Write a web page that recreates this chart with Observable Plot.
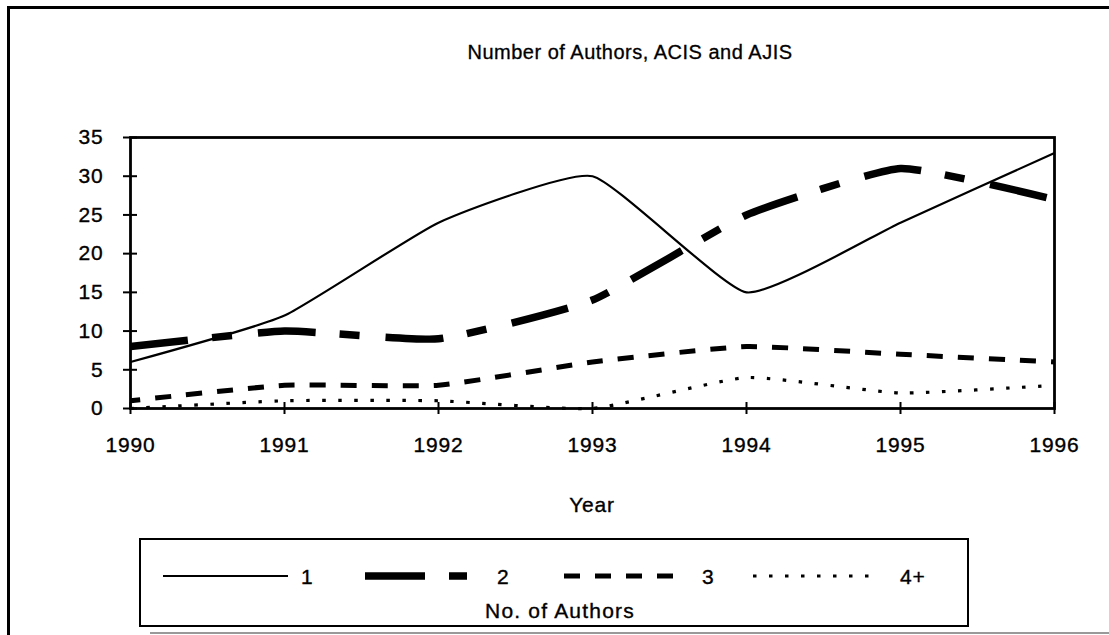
<!DOCTYPE html>
<html>
<head>
<meta charset="utf-8">
<script src="https://cdn.jsdelivr.net/npm/d3@7"></script>
<script src="https://cdn.jsdelivr.net/npm/@observablehq/plot@0.6"></script>
<style>
  html, body { margin: 0; padding: 0; background: #fff; }
  body { width: 1109px; height: 635px; position: relative; overflow: hidden;
         font-family: "Liberation Sans", Arial, Helvetica, sans-serif; color: #000; }
  #chart { position: absolute; left: 0; top: 0; }
  #chart svg text { letter-spacing: 0.8px; stroke: #000; stroke-width: 0.35px; }
  .frame-top { position: absolute; left: 7px; top: 6px; width: 1102px; height: 0; border-top: 3px solid #000; }
  .frame-left { position: absolute; left: 7px; top: 6px; width: 0; height: 629px; border-left: 3px solid #000; }
  .frame-bottom { position: absolute; left: 150px; top: 632px; width: 959px; height: 0; border-top: 2px solid #999; }
  #title { position: absolute; top: 42px; left: 430px; width: 400px; text-align: center;
           font-size: 20px; line-height: 20px; letter-spacing: 0.5px; white-space: nowrap;
           -webkit-text-stroke: 0.3px #000; }
  #xlabel { position: absolute; top: 494px; left: 492px; width: 200px; text-align: center;
            font-size: 21px; line-height: 21px; letter-spacing: 0.8px; -webkit-text-stroke: 0.35px #000; }
  #legendbox { position: absolute; left: 139px; top: 538px; width: 826px; height: 85px;
               border: 2.5px solid #000; }
  #legend { position: absolute; left: 0; top: 0; }
  #legend text { letter-spacing: 0.8px; stroke: #000; stroke-width: 0.35px; }
</style>
</head>
<body>
<div class="frame-top"></div>
<div class="frame-left"></div>
<div class="frame-bottom"></div>
<div id="title"></div>
<div id="chart"></div>
<div id="xlabel"></div>
<div id="legendbox"></div>
<svg id="legend" width="1109" height="635"></svg>
<script>
// ---- data ----
const years = [1990, 1991, 1992, 1993, 1994, 1995, 1996];
const seriesNames = ["1", "2", "3", "4+"];
const authors1 = [6, 12, 24, 30, 15, 24, 33];
const authors2 = [8, 10, 9, 14, 25, 31, 27];
const authors3 = [1, 3, 3, 6, 8, 7, 6];
const authors4plus = [0, 1, 1, 0, 4, 2, 3];
const yTicks = [0, 5, 10, 15, 20, 25, 30, 35];
const titleText = "Number of Authors, ACIS and AJIS";
const xLabel = "Year";
const legendTitle = "No. of Authors";

// ---- styles (kept separate from data) ----
const seriesValues = [authors1, authors2, authors3, authors4plus];
const lineStyles = {
  "1":  {strokeWidth: 2.2, dash: null, offset: 0},
  "2":  {strokeWidth: 7.5, dash: "58 24 20 26", offset: 0},
  "3":  {strokeWidth: 5, dash: "16 15", offset: 6},
  "4+": {strokeWidth: 3.2, dash: "3.5 12.5", offset: 0}
};

const rows = [];
seriesNames.forEach((s, i) => years.forEach((y, j) => rows.push({series: s, year: y, n: seriesValues[i][j]})));

const lineMarks = seriesNames.map(s => Plot.line(rows.filter(d => d.series === s), {
  x: "year", y: "n",
  stroke: "#000",
  strokeWidth: lineStyles[s].strokeWidth,
  strokeDasharray: lineStyles[s].dash,
  strokeDashoffset: lineStyles[s].offset,
  strokeLinecap: "butt",
  curve: "cardinal",
  tension: 0.55
}));

const chart = Plot.plot({
  width: 1109,
  height: 470,
  marginLeft: 130,
  marginRight: 55,
  marginTop: 137,
  marginBottom: 62,
  style: {fontFamily: '"Liberation Sans", Arial, Helvetica, sans-serif', fontSize: "21px", color: "#000", background: "transparent", overflow: "visible"},
  x: {domain: [years[0], years[years.length - 1]], label: null},
  y: {domain: [yTicks[0], yTicks[yTicks.length - 1]], label: null},
  marks: [
    ...lineMarks,
    Plot.frame({stroke: "#000", strokeWidth: 2.8}),
    Plot.axisY({ticks: yTicks, tickSize: 14, dx: 7, tickPadding: 20, label: null, strokeWidth: 2, fontSize: 21}),
    Plot.axisX({ticks: years, tickFormat: d => String(d), tickSize: 12, dy: -6, tickPadding: 23, label: null, strokeWidth: 2, fontSize: 21})
  ]
});
document.getElementById("chart").appendChild(chart);
document.getElementById("title").textContent = titleText;
document.getElementById("xlabel").textContent = xLabel;

// ---- legend ----
const legendLayout = {
  "1":  {x0: 163, x1: 288, lx: 301},
  "2":  {x0: 365, x1: 468, lx: 497},
  "3":  {x0: 564, x1: 676, lx: 702},
  "4+": {x0: 753, x1: 873, lx: 900}
};
const legendDash = {"1": null, "2": "60 24 18 200", "3": "16 15", "4+": "3.5 12.5"};
const lg = d3.select("#legend");
seriesNames.forEach(s => {
  const L = legendLayout[s];
  lg.append("line")
    .attr("x1", L.x0).attr("x2", L.x1).attr("y1", 576).attr("y2", 576)
    .attr("stroke", "#000")
    .attr("stroke-width", lineStyles[s].strokeWidth)
    .attr("stroke-dasharray", legendDash[s]);
  lg.append("text")
    .attr("x", L.lx).attr("y", 584)
    .attr("font-size", 21)
    .attr("font-family", '"Liberation Sans", Arial, sans-serif')
    .text(s);
});
lg.append("text")
  .attr("x", 560).attr("y", 618)
  .attr("text-anchor", "middle")
  .attr("font-size", 21)
  .attr("font-family", '"Liberation Sans", Arial, sans-serif')
  .style("letter-spacing", "1.2px")
  .text(legendTitle);
</script>
</body>
</html>
